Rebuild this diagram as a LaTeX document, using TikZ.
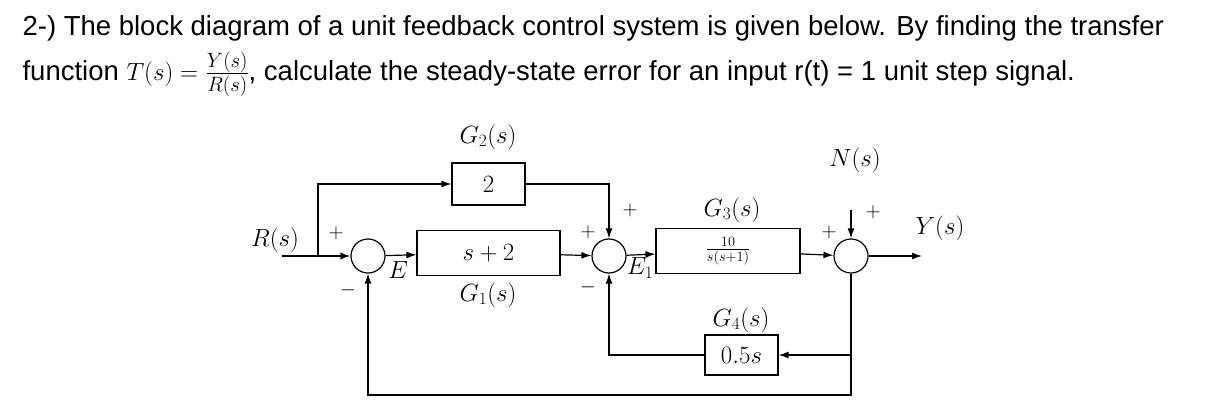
\documentclass[tikz,border=0pt]{standalone}
\usepackage{fontspec}
\usepackage{amsmath}
\newfontfamily\sff{Liberation Sans}
\usetikzlibrary{arrows.meta}
\begin{document}
\begin{tikzpicture}[x=1pt,y=-1pt,
  blk/.style={draw,line width=1.2pt,minimum width=#1,inner sep=0pt},
  sum/.style={draw,circle,line width=1.2pt,minimum size=34pt,inner sep=0pt},
  lab/.style={font=\fontsize{25}{28}\selectfont},
  sg/.style={font=\fontsize{21}{22}\selectfont},
  ar/.style={-{Latex[length=10pt,width=7pt]}},
  line width=1.2pt]
\useasboundingbox (0,0) rectangle (1210,414);
\node[anchor=west,inner sep=0pt,font=\sff\fontsize{27.5}{30}\selectfont] (t1) at (22,28) {2-) The block diagram of a unit feedback control system is given below. By finding the transfer};
\node[anchor=west,inner sep=0pt,font=\sff\fontsize{27.5}{30}\selectfont] (t2) at (22,74) {function {\fontsize{34}{36}\selectfont$T(s)=$} {\fontsize{32}{36}\selectfont$\frac{Y(s)}{R(s)}$}, calculate the steady-state error for an input r(t) = 1 unit step signal.};
% blocks
\node[sum] (s1) at (368,256) {};
\node[sum] (s2) at (609,256) {};
\node[sum] (s3) at (851,256) {};
\node[blk=143pt,minimum height=45pt,lab] (g1) at (488.5,253) {$s+2$};
\node[blk=73pt,minimum height=42pt,lab] (g2) at (488.5,184) {$2$};
\node[blk=144pt,minimum height=45pt,font=\fontsize{20}{22}\selectfont] (g3) at (728,251) {$\frac{10}{s(s+1)}$};
\node[blk=73pt,minimum height=40pt,lab] (g4) at (741.5,355) {$0.5s$};
\node[lab] (lg1) at (488,295) {$G_1(s)$};
\node[lab] (lg2) at (488,137) {$G_2(s)$};
\node[lab] (lg3) at (732,210) {$G_3(s)$};
\node[lab] (lg4) at (741,320) {$G_4(s)$};
\node[lab] (ln) at (855,160) {$N(s)$};
\node[lab] (ly) at (940,228) {$Y(s)$};
\node[lab] (lr) at (275,240) {$R(s)$};
\node[lab] (le) at (398,270) {$E$};
\node[lab] (le1) at (640,268) {$E_1$};
\node[sg] at (336,233) {$+$};
\node[sg] at (348,290) {$-$};
\node[sg] at (588,232) {$+$};
\node[sg] at (630,210) {$+$};
\node[sg] at (588,287) {$-$};
\node[sg] at (829,232) {$+$};
\node[sg] at (873,212) {$+$};
\coordinate (rin) at (282,256);
\coordinate (br) at (318,256);
\coordinate (nin) at (851,210);
\coordinate (yout) at (922,256);
\coordinate (fb) at (851,355);
% connectors
\draw[ar] (rin) -- (s1);
\draw[ar] (br) |- (g2);
\draw[ar] (s1) -- (g1);
\draw[ar] (g1) -- (s2);
\draw[ar] (g2) -| (s2);
\draw[ar] (s2) -- (g3);
\draw[ar] (g3) -- (s3);
\draw[ar] (nin) -- (s3);
\draw[ar] (s3) -- (yout);
\draw (s3) -- (fb);
\draw[ar] (fb) -- (g4);
\draw[ar] (g4) -| (s2);
\draw[ar] (fb) -- (851,395) -| (s1);
\end{tikzpicture}
\end{document}
